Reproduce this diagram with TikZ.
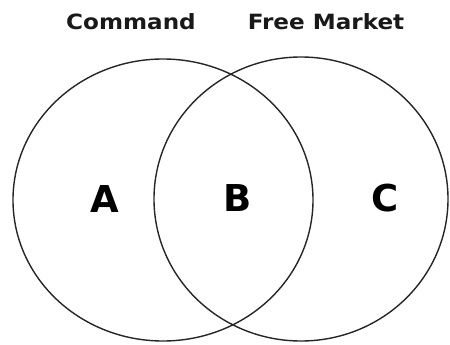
\documentclass[tikz,border=0pt]{standalone}
\usepackage{fontspec}
\setmainfont{DejaVu Sans}
\newfontfamily\titlefont[FakeStretch=1.1]{DejaVu Sans}
\begin{document}
\begin{tikzpicture}[x=1pt,y=-1pt,
  venn/.style={draw=black!85,line width=1.4pt},
  title/.style={font=\titlefont\fontsize{21}{24}\selectfont\bfseries,text=black!90,inner sep=0pt,anchor=base},
  region/.style={font=\fontsize{37}{40}\selectfont\bfseries,text=black,inner sep=0pt}]
\useasboundingbox (0,0) rectangle (450,345);
\draw[venn] (163,200) ellipse [x radius=150, y radius=141];
\draw[venn] (301,199) ellipse [x radius=147, y radius=142];
\node[title] (cmd) at (131,30) {Command};
\node[title] (fm) at (326,30) {Free Market};
\node[region] (a) at (105,199) {A};
\node[region] (b) at (238,198) {B};
\node[region] (c) at (385,198) {C};
\end{tikzpicture}
\end{document}
